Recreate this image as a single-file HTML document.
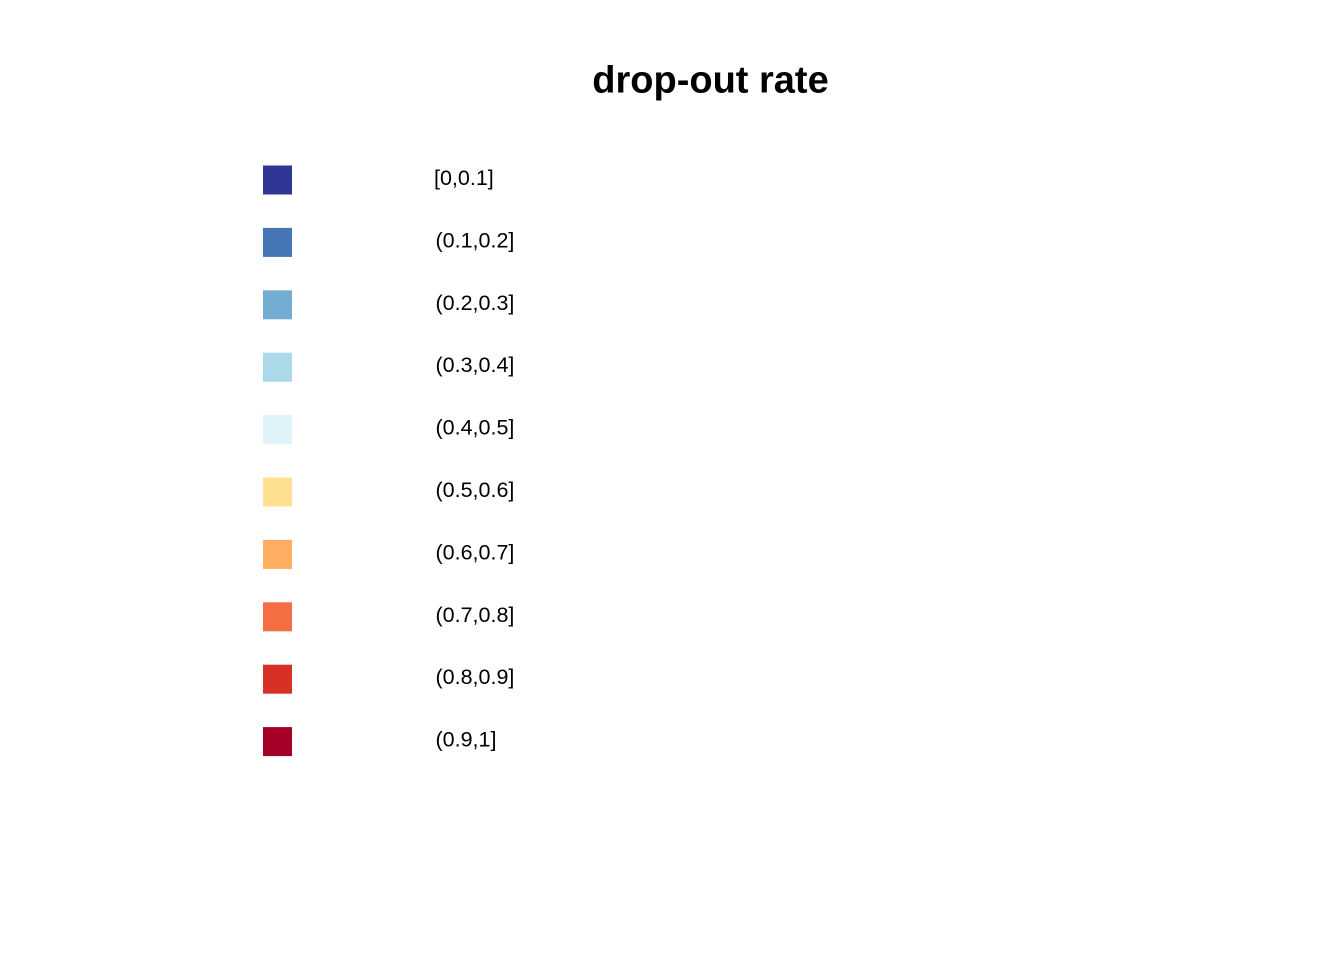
<!DOCTYPE html>
<html><head><meta charset="utf-8"><style>
html,body{margin:0;padding:0;background:#fff;}
svg{display:block;font-family:"Liberation Sans",Arial,sans-serif;}
</style></head><body>
<svg id="chart" width="1344" height="960">
<rect width="1344" height="960" fill="#fff"/>
<text x="710.5" y="92.5" text-anchor="middle" font-size="38" font-weight="bold">drop-out rate</text>
<g id="legend"></g>
</svg>
<script>
const labels = ["[0,0.1]","(0.1,0.2]","(0.2,0.3]","(0.3,0.4]","(0.4,0.5]","(0.5,0.6]","(0.6,0.7]","(0.7,0.8]","(0.8,0.9]","(0.9,1]"];
const colors = ["#313695","#4575b4","#74add1","#abd9e9","#e0f3f8","#fee090","#fdae61","#f46d43","#d73027","#a50026"];
const ns="http://www.w3.org/2000/svg";
const g=document.getElementById('legend');
const y0=180, step=62.4;
function yPos(i){return y0+i*step;}
labels.forEach((lab,i)=>{
  const r=document.createElementNS(ns,'rect');
  r.setAttribute('x',263);r.setAttribute('y',yPos(i)-14.5);
  r.setAttribute('width',29);r.setAttribute('height',29);
  r.setAttribute('fill',colors[i]);
  
  
  g.appendChild(r);
  const t=document.createElementNS(ns,'text');
  t.setAttribute('x',i===0?434:435.5);t.setAttribute('y',yPos(i)+5);
  t.setAttribute('font-size','21.5');
  t.textContent=lab;
  
  
  g.appendChild(t);
});
</script>
</body></html>
